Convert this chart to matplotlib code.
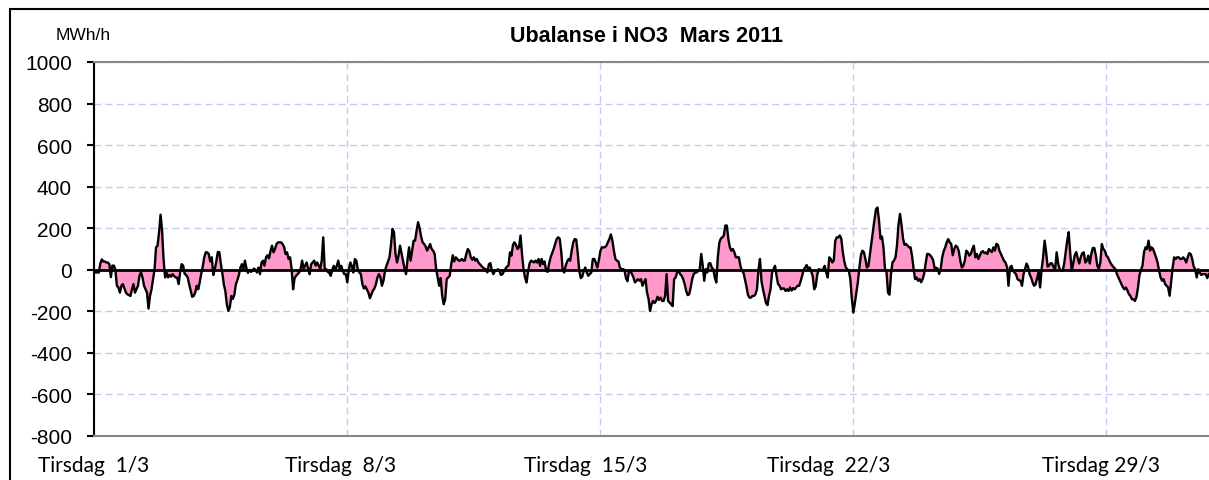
import matplotlib.pyplot as plt
import numpy as np
from matplotlib.patches import Rectangle

plt.rcParams['axes.unicode_minus'] = False

# hourly imbalance readings, one row per day (1-31 March 2011), MWh/h
day_values = [
    [-13, -13, -13, -13, 30, 50, 40, 40, 35, 35, 27, -35, 20, 20, 0, -77, -85, -110, -77, -69, -90, -110, -118, -122],
    [-126, -94, -69, -110, -94, -77, -29, -13, -37, -77, -94, -110, -187, -126, -94, -45, 0, 108, 116, 180, 265, 190, 50, -37],
    [-13, -37, -25, -33, -21, -30, -37, -37, -69, -13, 27, 20, -20, -25, -37, -70, -100, -130, -126, -110, -77, -94, -60, -20],
    [15, 60, 84, 84, 76, 40, 60, -25, 3, 40, 85, 85, 30, -15, -70, -102, -166, -198, -180, -126, -140, -120, -70, -50],
    [-25, 10, 27, 3, 44, 8, -15, 0, -10, -5, 6, 0, -13, 11, -21, 33, 44, 20, 60, 70, 55, 90, 116, 84],
    [100, 124, 132, 132, 132, 124, 110, 76, 84, 52, 60, 5, -94, -40, -29, -21, -13, 5, 44, 5, 20, 35, 5, -21],
    [27, 35, 44, 20, 35, 20, 3, 44, 156, 5, 3, -10, -15, -29, 0, 19, 0, 19, 44, 3, 19, -5, -21, -21],
    [-61, 0, 35, 19, -13, 52, 44, 0, -13, -21, -69, -90, -80, -95, -110, -137, -118, -100, -90, -70, -37, -21, -37, -77],
    [-53, -5, 19, 40, 60, 120, 197, 180, 76, 35, 68, 116, 80, 44, 6, -21, 52, 108, 44, 90, 140, 140, 189, 229],
    [200, 160, 132, 124, 112, 92, 108, 124, 100, 92, 76, 3, -37, -77, -40, -126, -166, -142, -45, -37, -29, 27, 70, 40],
    [60, 52, 44, 44, 52, 44, 44, 76, 100, 90, 60, 48, 60, 44, 52, 35, 27, 19, 11, 6, 3, -13, 27, 32],
    [-5, -21, -5, -5, 3, -5, -25, -21, -8, 5, 15, 20, 84, 68, 120, 132, 120, 100, 108, 165, 76, 3, -37, -61],
    [-10, 30, 44, 40, 35, 44, 35, 52, 19, 52, 27, 40, -5, -10, 30, 60, 80, 100, 124, 148, 156, 150, 90, 0],
    [-13, 20, 40, 52, 44, 92, 132, 148, 145, 80, -5, -40, -33, -5, 11, -13, -29, -21, -13, 52, 52, 35, 11, 44],
    [90, 108, 108, 108, 116, 132, 148, 170, 140, 92, 52, 44, 40, 11, 3, 3, 0, -40, -55, -8, -5, -21, -37, -61],
    [-53, -45, -53, -45, -77, -60, -45, -110, -140, -198, -166, -150, -160, -150, -130, -145, -134, -150, -150, -126, -21, -150, -158, -166],
    [-175, -45, -37, -13, -5, -21, -29, -45, -69, -102, -122, -118, -85, -45, -21, -13, -13, -5, 3, 76, 20, -53, 3, -13],
    [30, 32, 11, 3, -37, -61, 60, 130, 150, 156, 165, 213, 213, 148, 108, 92, 100, 84, 60, 60, 60, 19, -5, -13],
    [-45, -80, -120, -134, -134, -126, -126, -118, -94, 0, 52, -55, -94, -126, -160, -170, -125, -94, -15, 3, 19, -29, -69, -77],
    [-94, -90, -90, -102, -94, -102, -85, -100, -88, -94, -85, -77, -77, -55, -29, 0, 11, 23, 5, 11, -8, -30, -94, -80],
    [-25, 3, 0, 0, 3, 19, -13, -37, 60, 52, 35, 44, 140, 156, 156, 165, 150, 85, 40, 11, 3, -5, -45, -140],
    [-206, -160, -110, -60, 10, 70, 92, 85, 52, 11, 18, 75, 130, 185, 240, 290, 300, 240, 150, 160, 108, 5, -8, -110],
    [-120, -20, 36, 44, 60, 120, 220, 269, 215, 150, 120, 124, 116, 108, 108, 65, 5, -45, -37, -53, -45, -60, -45, -20],
    [30, 76, 76, 70, 60, 45, 5, 10, 5, -20, 5, 60, 90, 108, 132, 148, 132, 124, 70, 100, 116, 110, 90, 44],
    [11, 19, 44, 92, 84, 68, 76, 100, 116, 60, 76, 52, 68, 85, 90, 80, 84, 76, 100, 92, 85, 108, 92, 125],
    [120, 92, 76, 60, 44, 35, 15, -77, 11, 19, -5, -13, -21, -45, -50, -53, -77, -21, 3, 30, 15, -21, -37, -60],
    [-77, -70, -40, -13, -85, 3, 60, 140, 85, 15, 20, 32, 30, 11, 3, 84, 30, 3, -5, -5, 30, 85, 140, 181],
    [80, -5, 30, 70, 85, 55, 30, 60, 80, 84, 35, 44, 68, 30, 76, 105, 105, 70, 19, 5, 35, 124, 100, 92],
    [68, 60, 44, 30, 19, 11, 3, -21, -37, -53, -69, -85, -94, -85, -100, -118, -126, -142, -142, -150, -130, -85, -25, 0],
    [20, 85, 108, 100, 140, 92, 108, 100, 80, 60, 35, -5, -37, -53, -45, -69, -77, -85, -125, -60, 10, 60, 52, 60],
    [60, 52, 52, 60, 52, 35, 60, 80, 76, 52, 15, 3, -37, 3, -13, -25, -21, -21, -21, -40, -21],
]
values = np.concatenate(day_values)
hours = np.arange(len(values))

week_starts = [0, 168, 336, 504, 672]
week_labels = ['Tirsdag  1/3', 'Tirsdag  8/3', 'Tirsdag  15/3', 'Tirsdag  22/3', 'Tirsdag 29/3']
label_px = [38, 285, 524, 767, 1042]

W, H = 1209, 481
fig = plt.figure(figsize=(W / 100, H / 100), dpi=100)
ax = fig.add_axes([94.3 / W, (H - 437) / H, 1120.5 / W, 374 / H])

ax.fill_between(hours, values, 0, color='#ff99cc', lw=0)
ax.plot(hours, values, color='black', lw=1.7)
ax.axhline(0, color='black', lw=2)

ax.set_xlim(0, 744)
ax.set_ylim(-800, 1000)
ax.set_yticks(range(-800, 1001, 200))
ax.set_xticks(week_starts)
ax.set_xticklabels([])
ax.tick_params(axis='x', length=0)
ax.tick_params(axis='y', direction='out', length=5, width=1.5, labelsize=15, pad=11)
for lab in ax.get_yticklabels():
    lab.set_family('Liberation Sans')
ax.grid(True, color='#c8c8f8', ls=(0, (5, 3)), lw=1)
ax.set_axisbelow(True)

ax.spines['left'].set_color('black')
ax.spines['left'].set_linewidth(1.5)
for s in ['top', 'bottom']:
    ax.spines[s].set_color('#868686')
    ax.spines[s].set_linewidth(1.5)
ax.spines['right'].set_visible(False)

fig.text(646 / W, 1 - 37 / H, 'Ubalanse i NO3  Mars 2011', ha='center', va='center',
         weight='bold', size=15.5, family='Liberation Sans')
fig.text(56 / W, 1 - 35 / H, 'MWh/h', va='center', size=12.5, family='Liberation Sans')

for lab, px in zip(week_labels, label_px):
    fig.text(px / W, 1 - 466 / H, lab, va='center', size=15, family='Lato')

fig.add_artist(Rectangle((10 / W, -0.1), 1.1, (H - 10) / H + 0.1, transform=fig.transFigure,
                         fill=False, ec='black', lw=1.5))

fig.savefig('out.png', dpi=100)
